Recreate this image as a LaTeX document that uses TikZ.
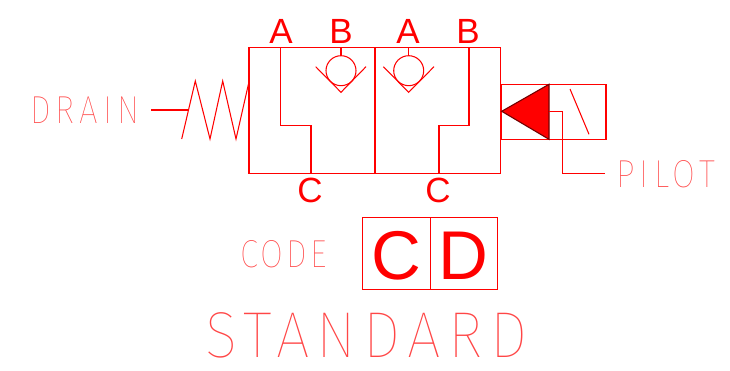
\documentclass[tikz,border=0pt]{standalone}
\usepackage{fontspec}
\setmainfont{Liberation Sans}
\newfontfamily\thinfont[UprightFont=* Thin,FakeStretch=0.85]{Fira Sans}
\newfontfamily\thinwide[UprightFont=* Thin,FakeStretch=0.92]{Fira Sans}
\definecolor{linered}{RGB}{255,0,0}
\definecolor{thinred}{RGB}{255,70,70}
\tikzset{
  ln/.style={draw=linered,line width=1.05pt,line join=miter},
  lab/.style={inner sep=0pt,anchor=base,text=linered,font=\fontsize{35}{35}\selectfont},
  biglab/.style={inner sep=0pt,anchor=base,text=linered,font=\fontsize{69}{69}\selectfont},
  thin/.style={inner sep=0pt,anchor=base west,text=thinred}
}
\begin{document}
\begin{tikzpicture}[x=1pt,y=-1pt]
\useasboundingbox (0,0) rectangle (730,371);
% main valve body
\node[ln,minimum width=126pt,minimum height=125.6pt,inner sep=0pt] (boxL) at (312,110.5) {};
\node[ln,minimum width=125.7pt,minimum height=125.6pt,inner sep=0pt] (boxR) at (437.9,110.5) {};
% flow paths
\coordinate (aTop) at (280.7,47.7);
\coordinate (cL) at (311,173.3);
\coordinate (bTop) at (469,47.7);
\coordinate (cR) at (439,173.3);
\draw[ln] (aTop) -- (280.7,125.7) -- (311,125.7) -- (cL);
\draw[ln] (bTop) -- (469,125.7) -- (439,125.7) -- (cR);
% check valves
\node[ln,circle,minimum size=30pt,inner sep=0pt] (ballL) at (341,70.7) {};
\node[ln,circle,minimum size=30pt,inner sep=0pt] (ballR) at (408.7,70.7) {};
\draw[ln] (341,47.7) -- (ballL.north);
\draw[ln] (408.7,47.7) -- (ballR.north);
\draw[ln] (315.7,66.7) -- (341,92.3) -- (366,66.7);
\draw[ln] (383.3,66.7) -- (408.7,92.3) -- (434,66.7);
% spring
\coordinate (drainEnd) at (151,110);
\coordinate (springJoin) at (188,110);
\draw[ln] (drainEnd) -- (springJoin);
\draw[ln] (181.7,139) -- (195.3,81) -- (210,139) -- (222.7,81) -- (236,139) -- (249,81.7);
% pilot
\node[ln,minimum width=105pt,minimum height=55pt,inner sep=0pt] (pilotBox) at (553.5,111.8) {};
\coordinate (tip) at (501.7,111.3);
\coordinate (baseT) at (549,84.3);
\coordinate (baseB) at (549,139.3);
\filldraw[fill=linered,draw=black!55!red,line width=1.1pt,line join=miter] (tip) -- (baseT) -- (baseB) -- cycle;
\draw[ln] (549,111.3) -- (562.7,111.3) -- (562.7,173.3) -- (604.7,173.3);
\draw[ln] (570,89) -- (589,134.3);
% port letters
\node[lab] (a1) at (281,44) {A};
\node[lab] (b1) at (341,44) {B};
\node[lab] (a2) at (408,44) {A};
\node[lab] (b2) at (468,44) {B};
\node[lab] (c1) at (310,203) {C};
\node[lab] (c2) at (438,203) {C};
% code boxes
\node[ln,minimum width=67.6pt,minimum height=72.7pt,inner sep=0pt] (codeC) at (396.5,253.6) {};
\node[ln,minimum width=67pt,minimum height=72.7pt,inner sep=0pt] (codeD) at (463.8,253.6) {};
\node[biglab] at (396.5,279) {C};
\node[biglab] at (463,279) {D};
% thin captions
\node[thin,font=\thinfont\addfontfeature{LetterSpace=13}\fontsize{39}{39}\selectfont] (drain) at (30,124) {DRAIN};
\node[thin,font=\thinfont\addfontfeature{LetterSpace=13.5}\fontsize{39}{39}\selectfont] (pilot) at (616,187.7) {PILOT};
\node[thin,font=\thinfont\addfontfeature{LetterSpace=8}\fontsize{39}{39}\selectfont] (code) at (240,267.7) {CODE};
\node[thin,font=\thinwide\addfontfeature{LetterSpace=11.5}\fontsize{65}{65}\selectfont] (std) at (205,357) {STANDARD};
\end{tikzpicture}
\end{document}
